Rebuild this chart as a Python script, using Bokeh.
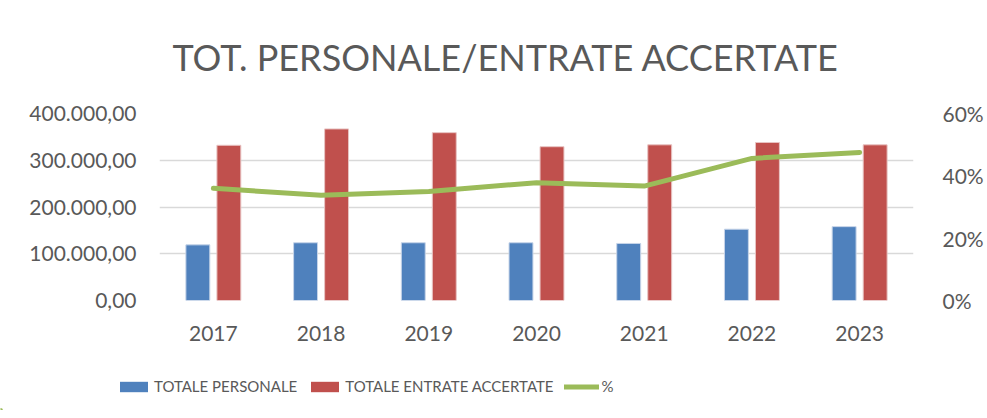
from bokeh.plotting import figure
from bokeh.layouts import column
from bokeh.models import (ColumnDataSource, FactorRange, Range1d, LinearAxis, FixedTicker,
                          Legend, LegendItem, Label)
from bokeh.transform import dodge
from bokeh.embed import file_html
from bokeh.resources import INLINE

years = ["2017", "2018", "2019", "2020", "2021", "2022", "2023"]
totale_personale = [119000, 123500, 123500, 123500, 122000, 152500, 158000]
totale_entrate = [332000, 367000, 359000, 329000, 333000, 338000, 333000]
percentuale = [0.360, 0.338, 0.350, 0.378, 0.367, 0.456, 0.475]

y_ticks = [0, 100000, 200000, 300000, 400000]
y_tick_labels = ["0,00", "100.000,00", "200.000,00", "300.000,00", "400.000,00"]
pct_ticks = [0.0, 0.2, 0.4, 0.6]
pct_tick_labels = ["0%", "20%", "40%", "60%"]

title_text = "TOT. PERSONALE/ENTRATE ACCERTATE"
legend_labels = ["TOTALE PERSONALE", "TOTALE ENTRATE ACCERTATE", "%"]
FONT = "Lato"
GREY = "#595959"
BLUE = "#4F81BD"
RED = "#C0504D"
GREEN = "#9BBB59"

src = ColumnDataSource(dict(year=years, pers=totale_personale, entr=totale_entrate, pct=percentuale))


def strip(h):
    f = figure(width=979, height=h, output_backend="svg", toolbar_location=None,
               x_range=Range1d(0, 1), y_range=Range1d(0, 1),
               min_border=0, min_border_left=0, min_border_right=0,
               min_border_top=0, min_border_bottom=0,
               outline_line_color=None, background_fill_color="white",
               border_fill_color="white", frame_align=False)
    f.axis.visible = False
    f.grid.visible = False
    return f


# ---------------- title strip ----------------
tt = strip(85)
tt.add_layout(Label(x=172, y=29, x_units="screen", y_units="screen", text=title_text,
                    text_font=FONT, text_font_size="36px", text_color=GREY,
                    text_baseline="alphabetic", text_align="left"))

# ---------------- main chart ----------------
p = figure(x_range=FactorRange(*years, range_padding=0), y_range=Range1d(0, 400000),
           width=986, height=275, output_backend="svg", toolbar_location=None,
           min_border_left=159, min_border_right=72, min_border_top=28, min_border_bottom=60,
           outline_line_color=None, background_fill_color="white", border_fill_color="white",
           frame_align=False)

p.extra_y_ranges = {"pct": Range1d(0, 0.6)}

p.vbar(x=dodge("year", -0.144, range=p.x_range), top="pers", width=0.222, source=src,
       fill_color=BLUE, line_color="#c6d4e8", line_width=1)
p.vbar(x=dodge("year", 0.144, range=p.x_range), top="entr", width=0.222, source=src,
       fill_color=RED, line_color="#e8c4c3", line_width=1)
p.line(x="year", y="pct", source=src, y_range_name="pct", line_color=GREEN,
       line_width=5, line_join="round", line_cap="round")

p.yaxis.ticker = FixedTicker(ticks=y_ticks)
p.yaxis.major_label_overrides = {t: l for t, l in zip(y_ticks, y_tick_labels)}
ax_r = LinearAxis(y_range_name="pct", ticker=FixedTicker(ticks=pct_ticks))
ax_r.major_label_overrides = {t: l for t, l in zip(pct_ticks, pct_tick_labels)}
p.add_layout(ax_r, "right")

for ax in [p.xaxis[0], p.yaxis[0], ax_r]:
    ax.axis_line_color = None
    ax.major_tick_line_color = None
    ax.minor_tick_line_color = None
    ax.major_label_text_font = FONT
    ax.major_label_text_font_size = "21px"
    ax.major_label_text_color = GREY
p.yaxis[0].major_label_standoff = 17
ax_r.major_label_standoff = 23
p.xaxis[0].major_label_standoff = 19

p.xgrid.grid_line_color = None
p.ygrid.grid_line_color = "#d9d9d9"
p.ygrid.grid_line_width = 1.3
p.ygrid.ticker = FixedTicker(ticks=y_ticks)

# ---------------- legend strip ----------------
lg = strip(50)
d1 = lg.vbar(x=[0], top=[0], width=0.0, fill_color=BLUE, line_color=None)
d2 = lg.vbar(x=[0], top=[0], width=0.0, fill_color=RED, line_color=None)
d3 = lg.line(x=[0, 0], y=[0, 0], line_color=GREEN, line_width=5, line_cap="round")

legend = Legend(items=[LegendItem(label=legend_labels[0], renderers=[d1]),
                       LegendItem(label=legend_labels[1], renderers=[d2]),
                       LegendItem(label=legend_labels[2], renderers=[d3])],
                orientation="horizontal", location=(116, 14),
                glyph_width=35, glyph_height=13, label_standoff=3, spacing=10,
                padding=0, margin=0, border_line_color=None, background_fill_alpha=0,
                label_text_font=FONT, label_text_font_size="15px", label_text_color=GREY,
                label_height=20)
lg.add_layout(legend)

layout = column(tt, p, lg, spacing=0)
open("out.html", "w").write(file_html(layout, INLINE))
